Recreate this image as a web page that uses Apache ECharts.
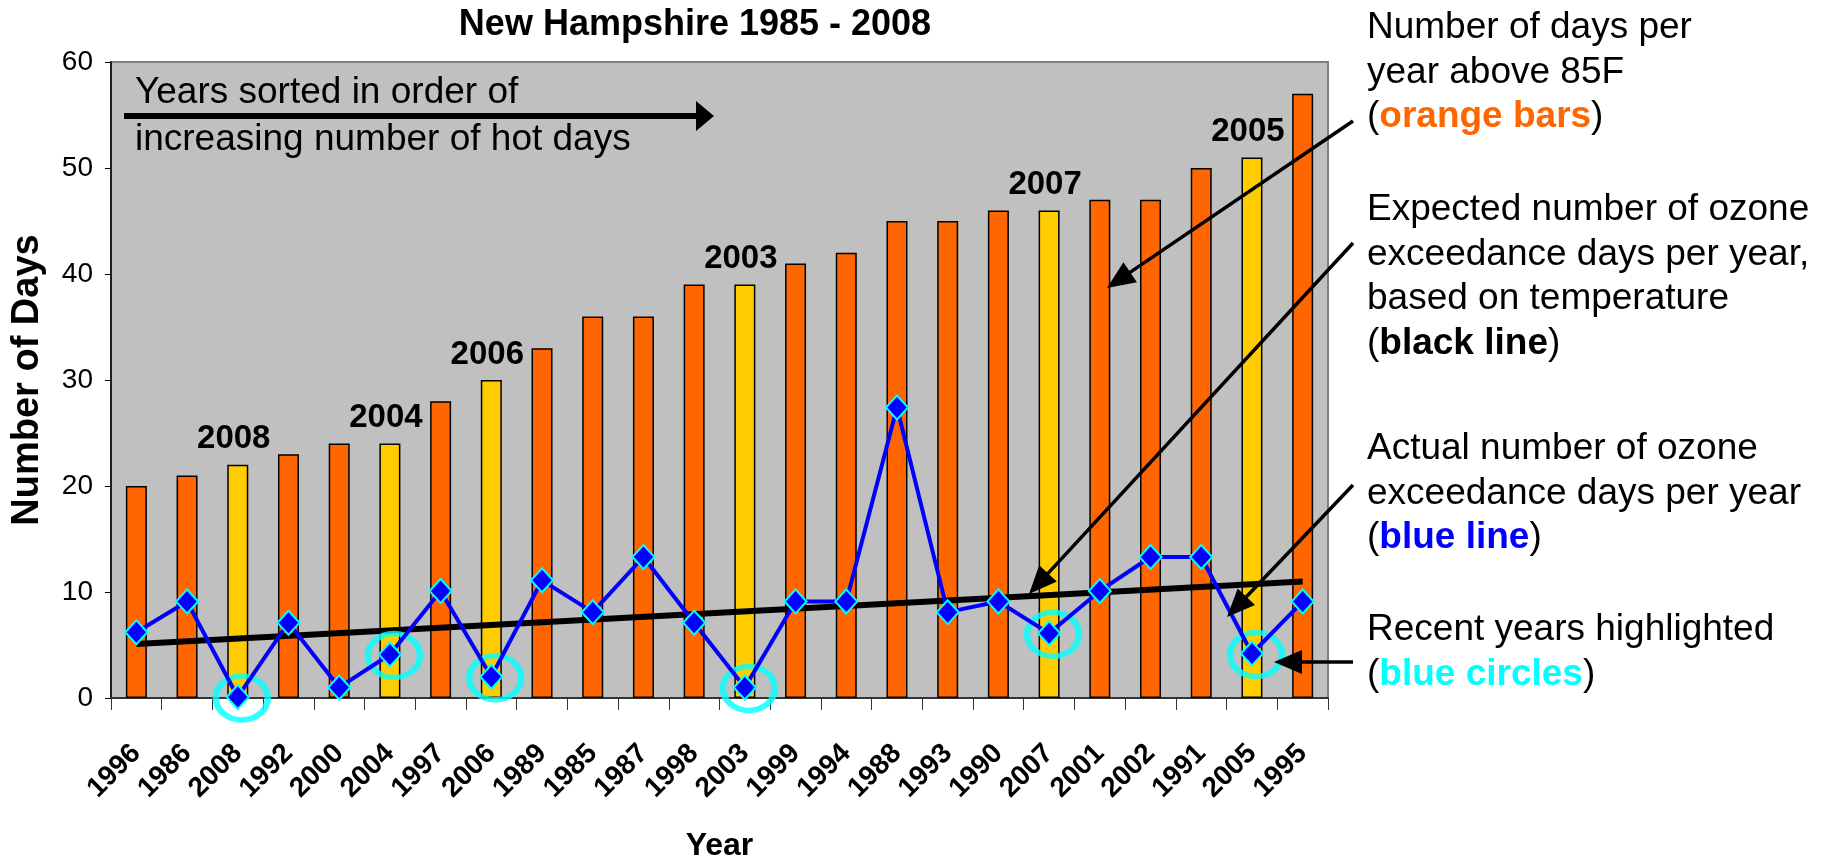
<!DOCTYPE html>
<html>
<head>
<meta charset="utf-8">
<script src="https://cdn.jsdelivr.net/npm/echarts@6/dist/echarts.min.js"></script>
<style>
html,body{margin:0;padding:0;background:#fff;}
#chart{width:1835px;height:864px;}
</style>
</head>
<body>
<div id="chart"></div>
<script>
// years sorted by number of hot days
const years = ['1996','1986','2008','1992','2000','2004','1997','2006','1989','1985','1987','1998',
               '2003','1999','1994','1988','1993','1990','2007','2001','2002','1991','2005','1995'];
// days per year above 85F (bars)
const hotDays = [20,21,22,23,24,24,28,30,33,36,36,39,39,41,42,45,45,46,46,47,47,50,51,57];
// actual ozone exceedance days (blue line)
const actualOzone = [6.2,9.1,0.1,7.1,1.0,4.1,10.1,2.0,11.1,8.1,13.3,7.1,
                     1.0,9.1,9.1,27.4,8.1,9.1,6.1,10.1,13.3,13.3,4.2,9.1];
// expected exceedance days, line ends at first and last year (black line)
const expectedEnds = [5.1, 11.0];
const recentYears = ['2003','2004','2005','2006','2007','2008'];
const yTicks = [0,10,20,30,40,50,60];

const FONT = 'Liberation Sans, Arial, sans-serif';
const ORANGE = '#FF6600', YELLOW = '#FFCC00', BLUE = '#0000FF', CYAN = '#00FFFF';

function arrow(x1, y1, x2, y2, w, headLen, headW){
    let dx = x2 - x1, dy = y2 - y1, len = Math.hypot(dx, dy);
    let ux = dx / len, uy = dy / len;
    let bx = x2 - ux * headLen, by = y2 - uy * headLen;
    let px = -uy * headW / 2, py = ux * headW / 2;
    return [
        {type:'line', z:100, shape:{x1:x1, y1:y1, x2:bx + ux*2, y2:by + uy*2}, style:{stroke:'#000', lineWidth:w}},
        {type:'polygon', z:100, shape:{points:[[x2,y2],[bx+px,by+py],[bx-px,by-py]]}, style:{fill:'#000'}}
    ];
}

function label(x, y, rich, text){
    return {
        type:'text', z:100,
        style:{
            x:x, y:y, text:text, verticalAlign:'top',
            fontFamily:FONT, fontSize:37, lineHeight:44.5, fill:'#000',
            rich:rich
        }
    };
}

const chart = echarts.init(document.getElementById('chart'));

const option = {
    animation:false,
    backgroundColor:'#fff',
    grid:{
        left:111, top:62, right:507, bottom:166,
        outerBoundsMode:'none',
        containLabel:false,
        show:true, backgroundColor:'#C0C0C0', borderColor:'#808080', borderWidth:2
    },
    xAxis:{
        type:'category',
        data:years,
        name:'Year',
        nameLocation:'middle',
        nameGap:132,
        nameTextStyle:{fontFamily:FONT, fontSize:32, fontWeight:'bold', color:'#000'},
        axisLine:{lineStyle:{color:'#333', width:2}},
        axisTick:{show:true, length:12, lineStyle:{color:'#333', width:1}},
        axisLabel:{
            rotate:45, margin:51, interval:0,
            fontFamily:FONT, fontSize:28, fontWeight:'bold', color:'#000'
        }
    },
    yAxis:{
        type:'value',
        min:yTicks[0], max:yTicks[yTicks.length-1], interval:10,
        name:'Number of Days',
        nameLocation:'middle',
        nameRotate:90,
        nameGap:64,
        nameTextStyle:{fontFamily:FONT, fontSize:38, fontWeight:'bold', color:'#000'},
        axisLine:{show:true, lineStyle:{color:'#000', width:1.5}},
        axisTick:{show:true, length:6, lineStyle:{color:'#000'}},
        splitLine:{show:false},
        axisLabel:{fontFamily:FONT, fontSize:28, color:'#000', margin:18}
    },
    series:[
        {
            name:'hot days',
            type:'bar',
            barWidth:21,
            z:2,
            data:hotDays.map((v, i) => {
                let recent = recentYears.includes(years[i]);
                return {
                    value:v,
                    itemStyle:{color: recent ? YELLOW : ORANGE},
                    label:{show:recent}
                };
            }),
            itemStyle:{borderColor:'#000', borderWidth:1.5},
            label:{
                position:'top', distance:9, offset:[-4,0],
                formatter:(p) => p.name,
                fontFamily:FONT, fontSize:33, fontWeight:'bold', color:'#000'
            }
        },
        {
            name:'expected',
            type:'line',
            z:3,
            symbol:'none',
            data:[[years[0], expectedEnds[0]], [years[years.length-1], expectedEnds[1]]],
            lineStyle:{color:'#000', width:6}
        },
        {
            name:'recent circles',
            type:'scatter',
            z:4,
            symbol:'circle',
            symbolSize:[52,44],
            symbolOffset:[4,1],
            data:actualOzone.map((v, i) => recentYears.includes(years[i]) ? v : '-'),
            itemStyle:{color:'rgba(0,0,0,0)', borderColor:CYAN, borderWidth:6}
        },
        {
            name:'actual',
            type:'line',
            z:5,
            symbol:'diamond',
            symbolSize:[22,24],
            data:actualOzone,
            lineStyle:{color:BLUE, width:4},
            itemStyle:{color:BLUE, borderColor:CYAN, borderWidth:2}
        }
    ],
    graphic:[
        {
            type:'text', z:100,
            style:{
                x:695, y:25, text:'New Hampshire 1985 - 2008',
                align:'center', verticalAlign:'middle',
                fontFamily:FONT, fontSize:36, fontWeight:'bold', fill:'#000'
            }
        },
        {
            type:'text', z:100,
            style:{
                x:135, y:69, text:'Years sorted in order of\nincreasing number of hot days',
                verticalAlign:'top',
                fontFamily:FONT, fontSize:37, lineHeight:47, fill:'#000'
            }
        },
        ...arrow(124, 116, 714, 116, 6, 18, 30),
        label(1367, 6, {o:{fontFamily:FONT, fontSize:37, fontWeight:'bold', fill:ORANGE}},
            'Number of days per\nyear above 85F\n({o|orange bars})'),
        label(1367, 188, {k:{fontFamily:FONT, fontSize:37, fontWeight:'bold', fill:'#000'}},
            'Expected number of ozone\nexceedance days per year,\nbased on temperature\n({k|black line})'),
        label(1367, 427, {b:{fontFamily:FONT, fontSize:37, fontWeight:'bold', fill:BLUE}},
            'Actual number of ozone\nexceedance days per year\n({b|blue line})'),
        label(1367, 608, {c:{fontFamily:FONT, fontSize:37, fontWeight:'bold', fill:CYAN}},
            'Recent years highlighted\n({c|blue circles})'),
        ...arrow(1353, 121, 1107, 288, 3.5, 28, 24),
        ...arrow(1353, 243, 1029, 594, 3.5, 28, 24),
        ...arrow(1353, 485, 1227, 617, 3.5, 28, 24),
        ...arrow(1353, 662, 1274, 662, 3.5, 28, 24)
    ]
};

chart.setOption(option);
</script>
</body>
</html>
